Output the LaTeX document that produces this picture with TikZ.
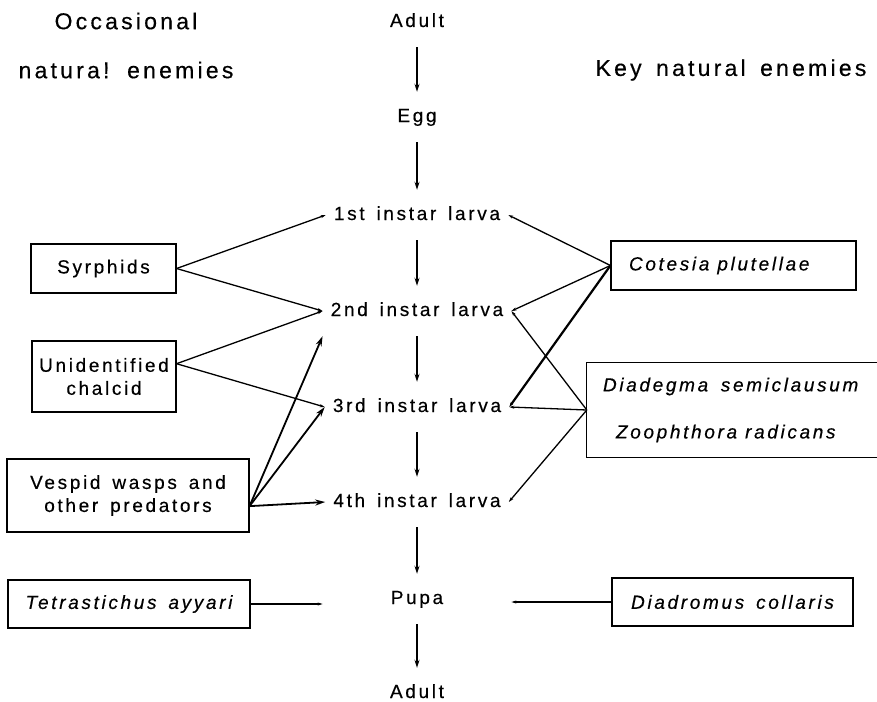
\documentclass[tikz,border=0pt]{standalone}
\usepackage{fontspec}
\setmainfont{Liberation Sans}[LetterSpace=14, WordSpace=1.5, FakeBold=0.4]
\usetikzlibrary{arrows.meta}
\tikzset{
  stage/.style={font=\fontsize{19}{22}\selectfont, inner xsep=8pt, inner ysep=16pt,
    text height=14pt, text depth=4pt},
  enemy/.style={draw, line width=1.1pt, font=\fontsize{19}{23}\selectfont,
    align=center, inner sep=0pt},
  ital/.style={font=\fontsize{19}{23}\selectfont\itshape},
  head/.style={font=\fontsize{23}{26}\selectfont},
  growth/.style={-{Stealth[length=8pt,width=5pt]}, line width=1.4pt},
  attack/.style={-{Stealth[length=5pt,width=3pt]}, line width=1.3pt},
  prey/.style={-{Stealth[length=10pt,width=6pt]}, line width=1.8pt}
}
\begin{document}
\begin{tikzpicture}[x=1pt,y=-1pt]
  \useasboundingbox (0,0) rectangle (877,701);
  \draw
    (126,21) node[head] (occ1){Occasional}
    (126,70) node[head] (occ2){natura! enemies}
    (731,70) node[head] (key){Key natural enemies};
  \draw
    (417,22) node[stage] (adult0){Adult}
    (417,117) node[stage] (egg){Egg}
    (417,215) node[stage] (l1){1st instar larva}
    (417,311) node[stage] (l2){2nd instar larva}
    (417,407) node[stage] (l3){3rd instar larva}
    (417,502) node[stage] (l4){4th instar larva}
    (417,599) node[stage] (pupa){Pupa}
    (417,693) node[stage] (adult1){Adult};
  \draw
    (103.5,268.5) node[enemy, minimum width=145pt, minimum height=49pt] (syr){Syrphids}
    (104,376.5) node[enemy, minimum width=144pt, minimum height=71pt] (chal){Unidentified\\chalcid}
    (128,495.5) node[enemy, minimum width=242pt, minimum height=73pt] (vesp){Vespid wasps and\\other predators}
    (129,604) node[enemy, ital, minimum width=242pt, minimum height=48pt] (tetra){Tetrastichus ayyari}
    (733.5,265.5) node[enemy, ital, minimum width=245pt, minimum height=49pt,
      text width=209pt, inner xsep=18pt, align=left] (cot){Cotesia\hspace{8pt}plutellae}
    (732.5,602) node[enemy, ital, minimum width=241pt, minimum height=48pt] (diadr){Diadromus collaris}
    (733,410) node[ital, minimum width=292pt, minimum height=94pt, text width=260pt,
      inner xsep=15pt, align=left] (diad){Diadegma\ \ semiclausum\\[24pt]\hspace*{13pt}Zoophthora\hspace{8pt}radicans};
  % open box, cut by the right margin
  \draw[line width=1.1pt] (diad.north east) -- (diad.north west) -- (diad.south west) -- (diad.south east);
  \begin{scope}[growth]
    \draw (adult0) to (egg);
    \draw (egg) to (l1);
    \draw (l1) to (l2);
    \draw (l2) to (l3);
    \draw (l3) to (l4);
    \draw (l4) to (pupa);
    \draw (pupa) to (adult1);
  \end{scope}
  \begin{scope}[attack]
    \draw (syr.east) to (l1.west);
    \draw (syr.east) to (l2.west);
    \draw (chal.10) to (l2.west);
    \draw (chal.10) to (l3.west);
    \draw (cot.west) to (l1.east);
    \draw (cot.west) to (l2.east);
    \draw[line width=2.2pt] (cot.west) to (l3.east);
    \draw (diad.west) to (l2.east);
    \draw (diad.west) to (l3.east);
    \draw (diad.west) to (l4.east);
    \draw[shorten >=60pt] (tetra.east) to (tetra.east -| pupa.west);
    \draw[shorten >=60pt] (diadr.west) to (diadr.west -| pupa.east);
  \end{scope}
  \begin{scope}[prey]
    \draw (vesp.-5) to (l2.south west);
    \draw (vesp.-5) to (l3.west);
    \draw (vesp.-5) to (l4.west);
  \end{scope}
\end{tikzpicture}
\end{document}
